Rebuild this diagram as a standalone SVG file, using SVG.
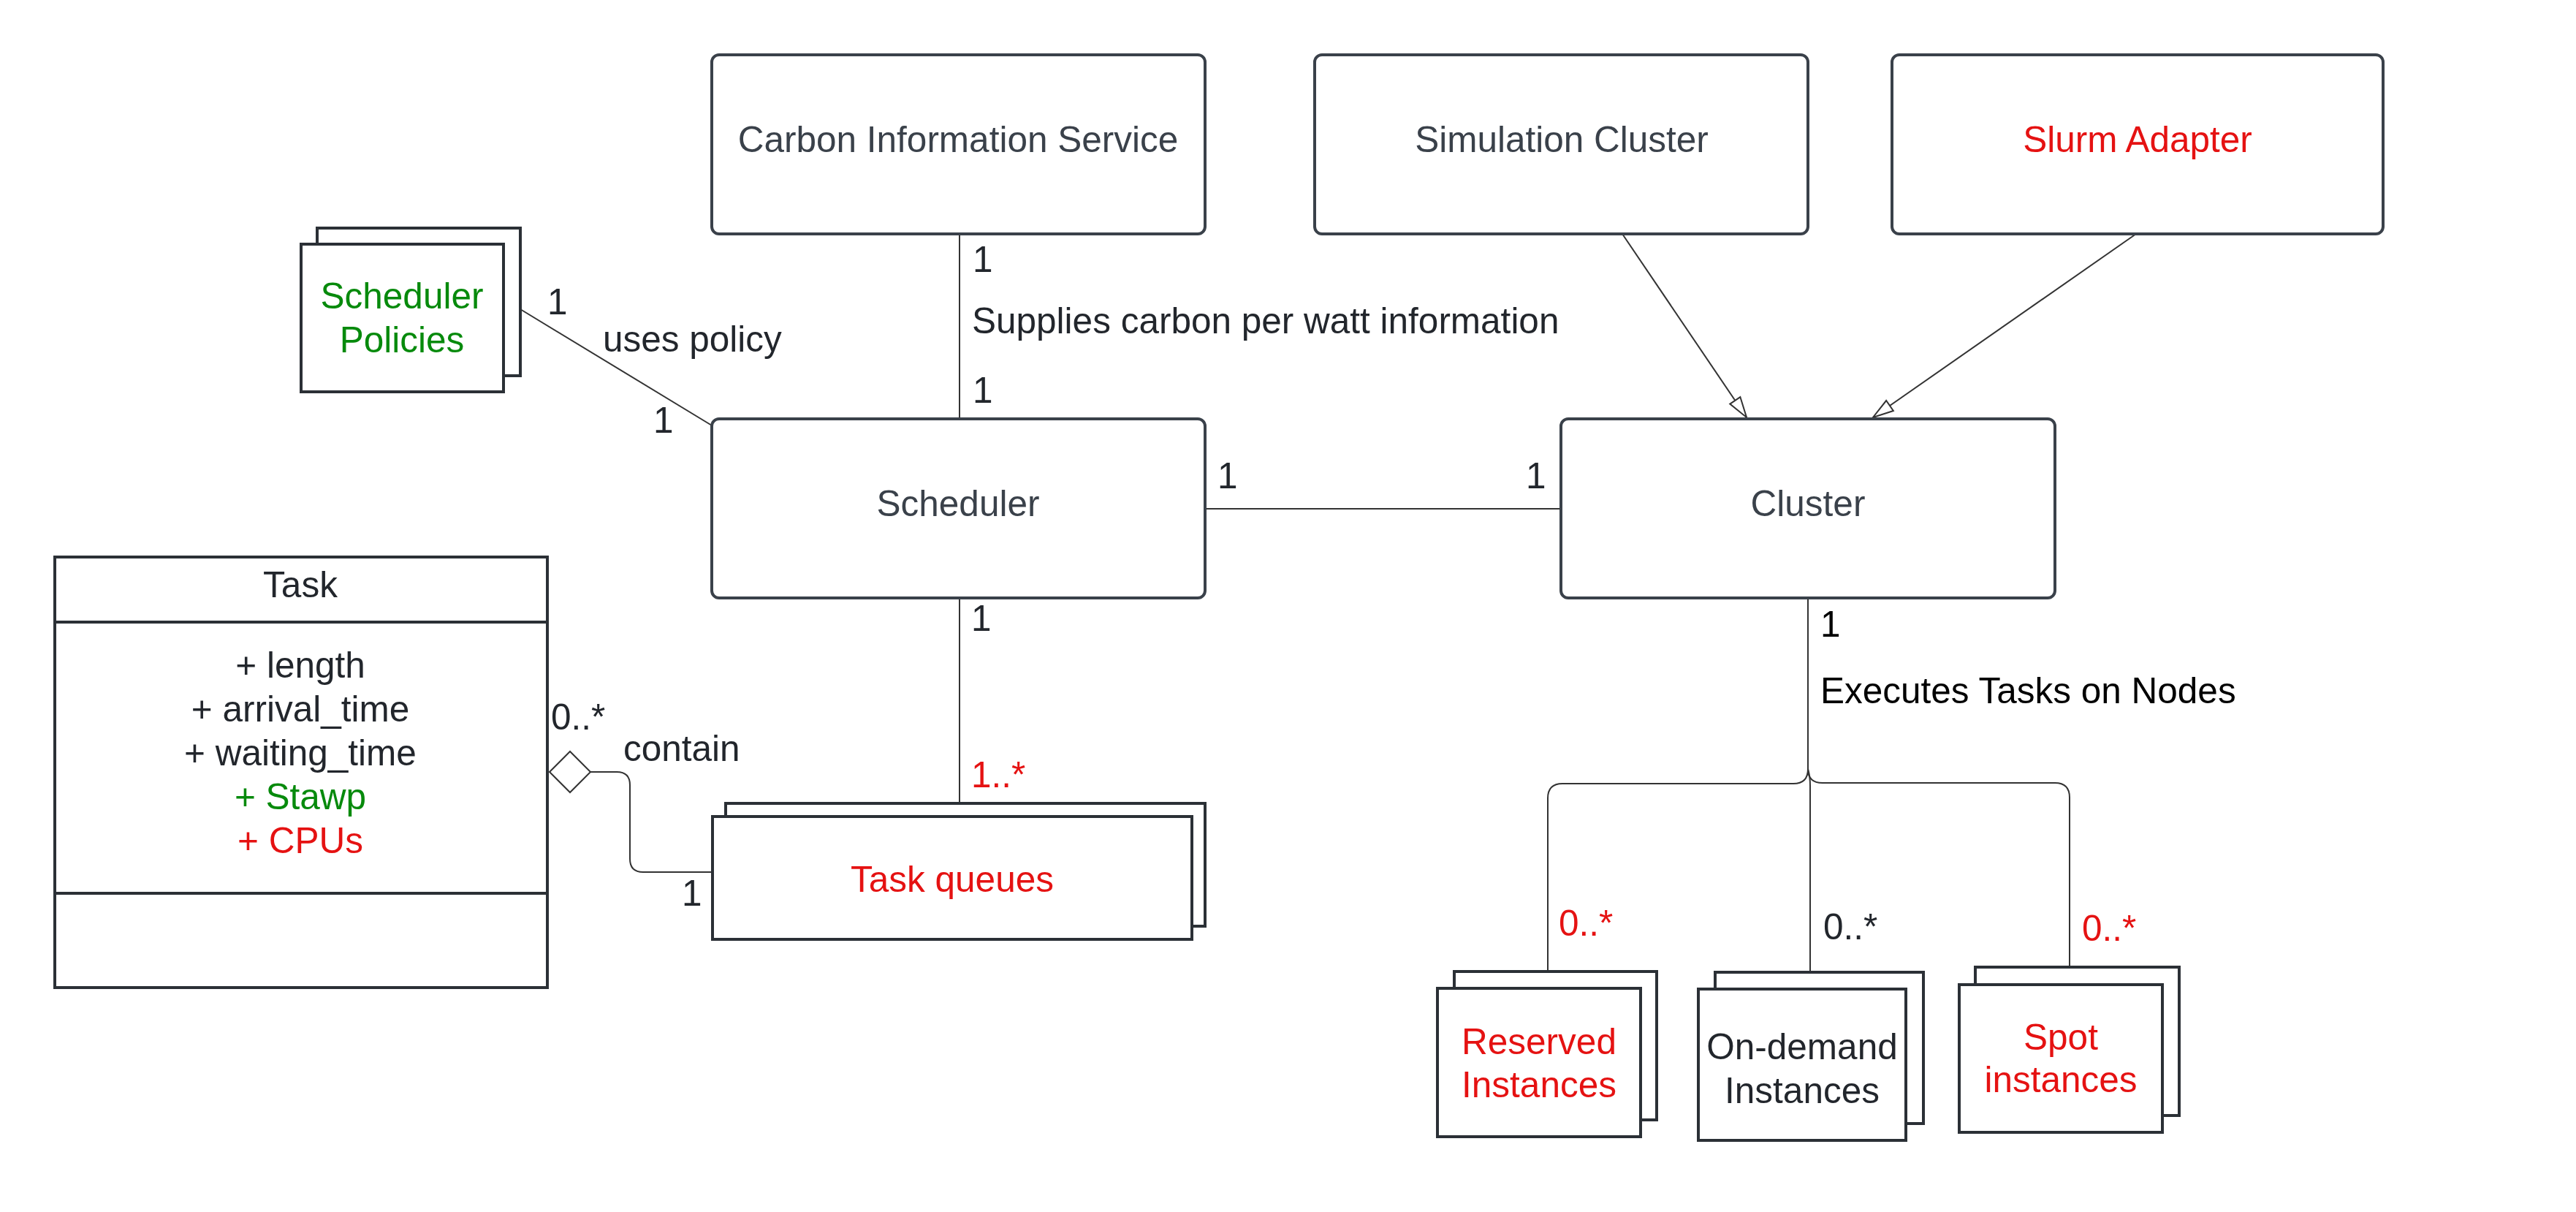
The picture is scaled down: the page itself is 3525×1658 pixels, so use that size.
<svg xmlns="http://www.w3.org/2000/svg" width="3525" height="1658" viewBox="0 0 3525 1658">
<style>
text{font-family:"Liberation Sans",Arial,sans-serif;font-size:49.5px;fill:#22262c}
.c{text-anchor:middle}
.g{fill:#3a414a}
.r{fill:#e51212}
.gr{fill:#078a0c}
.k{fill:#000}
.box{fill:#fff;stroke:#3a414a;stroke-width:4}
.sq{fill:#fff;stroke:#2b3036;stroke-width:4}
.ln{fill:none;stroke:#333;stroke-width:2}
</style>
<defs>
<marker id="tri" markerUnits="userSpaceOnUse" markerWidth="34" markerHeight="22" refX="30" refY="10" orient="auto" viewBox="0 0 34 22">
<path d="M2,1.5 L30,10 L2,18.5 Z" fill="#fff" stroke="#333" stroke-width="2"/>
</marker>
</defs>
<rect width="3525" height="1658" fill="#fff"/>
<g id="connectors">
<line class="ln" x1="712" y1="423" x2="974" y2="582"/>
<line class="ln" x1="1313" y1="320" x2="1313" y2="573"/>
<line class="ln" x1="1650" y1="696" x2="2136" y2="696"/>
<line class="ln" x1="1313" y1="818" x2="1313" y2="1099"/>
<path class="ln" d="M808,1056 H844 Q862,1056 862,1074 V1175 Q862,1193 880,1193 H975"/>
<polygon points="752,1056 780,1028 808,1056 780,1084" fill="#fff" stroke="#333" stroke-width="2"/>
<line class="ln" x1="2220" y1="320" x2="2390" y2="571" marker-end="url(#tri)"/>
<line class="ln" x1="2923" y1="320" x2="2563" y2="571" marker-end="url(#tri)"/>
<path class="ln" d="M2474,817 V1052 Q2474,1072 2454,1072 H2138 Q2118,1072 2118,1092 V1329"/>
<path class="ln" d="M2474,817 V1052 Q2474,1071 2494,1071 H2812 Q2832,1071 2832,1091 V1322"/>
<path class="ln" d="M2474,1052 Q2477,1062 2477,1075 V1330"/>
<text x="749" y="430">1</text>
<text x="825" y="481">uses policy</text>
<text x="894" y="592">1</text>
<text x="1331" y="372">1</text>
<text x="1330" y="456">Supplies carbon per watt information</text>
<text x="1331" y="551">1</text>
<text x="1666" y="668">1</text>
<text x="2088" y="668">1</text>
<text x="1329" y="863">1</text>
<text class="r" x="1329" y="1077">1..*</text>
<text x="754" y="998">0..*</text>
<text x="853" y="1041">contain</text>
<text x="933" y="1239">1</text>
<text class="k" x="2491" y="871">1</text>
<text class="k" x="2491" y="962">Executes Tasks on Nodes</text>
<text class="r" x="2133" y="1280">0..*</text>
<text x="2495" y="1285">0..*</text>
<text class="r" x="2849" y="1287">0..*</text>
</g>
<g id="carbon">
<rect class="box" x="974" y="75" width="675" height="245" rx="10"/>
<text class="c g" x="1311" y="208">Carbon Information Service</text>
</g>
<g id="simcluster">
<rect class="box" x="1799" y="75" width="675" height="245" rx="10"/>
<text class="c g" x="2137" y="208">Simulation Cluster</text>
</g>
<g id="slurm">
<rect class="box" x="2589" y="75" width="672" height="245" rx="10"/>
<text class="c r" x="2925" y="208">Slurm Adapter</text>
</g>
<g id="scheduler">
<rect class="box" x="974" y="573" width="675" height="245" rx="10"/>
<text class="c g" x="1311" y="706">Scheduler</text>
</g>
<g id="cluster">
<rect class="box" x="2136" y="573" width="676" height="245" rx="10"/>
<text class="c g" x="2474" y="706">Cluster</text>
</g>
<g id="policies">
<rect class="sq" x="434" y="312" width="278" height="202"/>
<rect class="sq" x="412" y="334" width="277" height="202"/>
<text class="c gr" x="550" y="422">Scheduler</text>
<text class="c gr" x="550" y="482">Policies</text>
</g>
<g id="taskqueues">
<rect class="sq" x="993" y="1099" width="656" height="168"/>
<rect class="sq" x="975" y="1117" width="656" height="168"/>
<text class="c r" x="1303" y="1220">Task queues</text>
</g>
<g id="task">
<rect class="sq" x="75" y="762" width="674" height="589"/>
<line x1="75" y1="851" x2="749" y2="851" stroke="#2b3036" stroke-width="4"/>
<line x1="75" y1="1222" x2="749" y2="1222" stroke="#2b3036" stroke-width="4"/>
<text class="c" x="411" y="817">Task</text>
<text class="c" x="411" y="927">+ length</text>
<text class="c" x="411" y="987">+ arrival_time</text>
<text class="c" x="411" y="1047">+ waiting_time</text>
<text class="c gr" x="411" y="1107">+ Stawp</text>
<text class="c r" x="411" y="1167">+ CPUs</text>
</g>
<g id="reserved">
<rect class="sq" x="1990" y="1329" width="277" height="203"/>
<rect class="sq" x="1967" y="1352" width="278" height="203"/>
<text class="c r" x="2106" y="1442">Reserved</text>
<text class="c r" x="2106" y="1501">Instances</text>
</g>
<g id="ondemand">
<rect class="sq" x="2347" y="1330" width="285" height="207"/>
<rect class="sq" x="2324" y="1353" width="284" height="207"/>
<text class="c" x="2466" y="1449">On-demand</text>
<text class="c" x="2466" y="1509">Instances</text>
</g>
<g id="spot">
<rect class="sq" x="2703" y="1323" width="279" height="203"/>
<rect class="sq" x="2681" y="1347" width="278" height="202"/>
<text class="c r" x="2820" y="1436">Spot</text>
<text class="c r" x="2820" y="1494">instances</text>
</g>
</svg>
